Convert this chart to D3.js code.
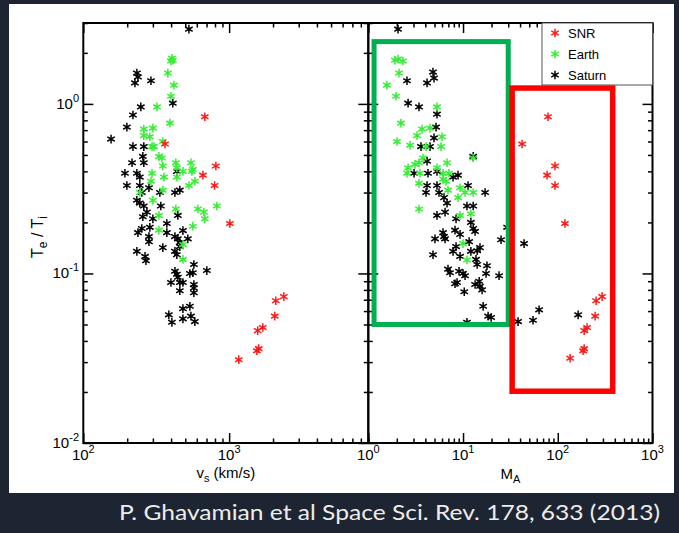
<!DOCTYPE html>
<html><head><meta charset="utf-8">
<script src="https://cdn.jsdelivr.net/npm/d3@7"></script>
<style>html,body{margin:0;padding:0;background:#1e2532;}svg{display:block}</style>
</head><body>
<svg id="c" width="679" height="533"></svg>
<script>
// ---------- data ----------
const seriesNames = ["SNR", "Earth", "Saturn"];
const yMajorTicks = [0.01, 0.1, 1];
const vsMajorTicks = [100, 1000];
const maMajorTicks = [1, 10, 100, 1000];

// [v_s (km/s), Te/Ti]
const snrVs = [[681,0.84],[363,0.58],[811,0.43],[661,0.38],[795,0.33],[1011,0.197],[2371,0.073],[2089,0.069],[2056,0.056],[1701,0.048],[1570,0.046],[1596,0.036],[1549,0.035],[1164,0.031]];
const earthVs = [[405,1.86],[399,1.79],[411,1.81],[380,1.52],[418,1.29],[399,1.11],[320,0.96],[393,0.77],[260,0.71],[300,0.72],[260,0.65],[286,0.64],[351,0.60],[296,0.56],[305,0.56],[330,0.49],[346,0.48],[351,0.43],[431,0.45],[438,0.42],[547,0.45],[555,0.40],[564,0.41],[482,0.40],[296,0.39],[357,0.37],[438,0.37],[291,0.35],[530,0.33],[582,0.35],[351,0.31],[244,0.30],[300,0.27],[431,0.24],[611,0.24],[671,0.23],[681,0.21],[824,0.25],[564,0.19],[330,0.18],[482,0.148],[330,0.22],[482,0.121]];
const saturnVs = [[530,2.76],[233,1.52],[237,1.44],[226,1.33],[291,1.37],[411,1.01],[248,0.96],[219,0.86],[199,0.73],[155,0.62],[219,0.56],[260,0.56],[256,0.49],[260,0.45],[216,0.45],[193,0.39],[233,0.39],[244,0.37],[438,0.40],[199,0.33],[244,0.33],[282,0.32],[252,0.30],[335,0.30],[459,0.31],[425,0.30],[233,0.27],[244,0.26],[260,0.25],[273,0.23],[256,0.216],[300,0.21],[340,0.25],[445,0.22],[374,0.197],[252,0.184],[237,0.174],[286,0.187],[282,0.165],[282,0.154],[374,0.174],[482,0.179],[425,0.165],[445,0.16],[459,0.152],[521,0.16],[351,0.142],[233,0.135],[265,0.126],[459,0.144],[425,0.135],[269,0.119],[438,0.129],[425,0.103],[438,0.099],[445,0.095],[459,0.0885],[399,0.0885],[482,0.0885],[459,0.079],[538,0.100],[573,0.113],[564,0.101],[573,0.086],[573,0.082],[573,0.077],[703,0.104],[386,0.057],[405,0.0515],[482,0.062],[538,0.064],[482,0.054],[547,0.056],[582,0.052]];

// [M_A, Te/Ti]
const snrMA = [[78.9,0.84],[42.0,0.58],[93.5,0.43],[77.1,0.38],[93.5,0.33],[119,0.197],[294,0.073],[254,0.069],[248,0.056],[204,0.048],[190,0.046],[190,0.036],[185,0.035],[135,0.0316]];
const earthMA = [[1.91,1.81],[2.06,1.84],[2.32,1.79],[2.11,1.52],[1.57,1.29],[1.96,1.11],[5.31,0.96],[2.21,0.77],[3.69,0.71],[4.48,0.72],[3.27,0.65],[6.00,0.64],[2.01,0.60],[2.76,0.57],[4.07,0.56],[5.86,0.56],[3.78,0.48],[3.43,0.45],[3.11,0.44],[2.63,0.42],[2.56,0.39],[3.51,0.39],[5.31,0.42],[6.78,0.45],[12.8,0.48],[6.15,0.39],[7.11,0.39],[3.43,0.34],[6.15,0.36],[6.61,0.35],[6.94,0.31],[9.30,0.32],[10.5,0.30],[12.8,0.30],[8.86,0.28],[3.43,0.24],[12.1,0.225],[9.30,0.22],[10.0,0.15],[11.0,0.12]];
const saturnMA = [[2.06,2.76],[4.82,1.54],[4.94,1.42],[4.17,1.33],[2.56,1.37],[2.63,1.01],[3.43,0.96],[5.31,0.87],[5.19,0.73],[4.94,0.63],[3.60,0.56],[4.48,0.56],[12.8,0.49],[4.17,0.46],[3.04,0.39],[4.27,0.39],[5.31,0.40],[7.84,0.37],[8.86,0.38],[4.17,0.33],[5.31,0.33],[4.07,0.30],[5.58,0.30],[11.3,0.33],[17.1,0.30],[6.30,0.28],[6.78,0.26],[11.0,0.25],[12.8,0.25],[6.46,0.23],[5.31,0.22],[8.44,0.21],[12.1,0.20],[12.8,0.184],[13.4,0.177],[8.23,0.18],[6.15,0.174],[6.30,0.165],[5.06,0.16],[6.46,0.16],[9.30,0.17],[11.6,0.154],[8.44,0.144],[15.1,0.142],[14.1,0.136],[12.1,0.135],[25.2,0.158],[29.2,0.187],[44.1,0.15],[4.82,0.129],[9.30,0.126],[7.84,0.135],[13.7,0.121],[14.1,0.113],[17.9,0.111],[6.94,0.106],[7.29,0.101],[9.07,0.103],[10.0,0.100],[10.5,0.097],[17.5,0.100],[24.0,0.097],[8.65,0.0885],[8.23,0.087],[13.4,0.086],[14.8,0.090],[15.1,0.084],[15.9,0.080],[10.3,0.078],[16.3,0.064],[18.4,0.056],[19.8,0.055],[11.0,0.0515],[38.1,0.052],[54.8,0.053],[63.5,0.061],[164,0.057]];

// annotation boxes in data units: [M_A min, M_A max], [Te/Ti min, Te/Ti max]
const greenBoxMA = [1.15, 30], greenBoxT = [0.05, 2.33];
const redBoxMA = [33, 380], redBoxT = [0.0202, 1.24];

const caption = "P. Ghavamian et al Space Sci. Rev. 178, 633 (2013)";

// ---------- styles / layout ----------
const colors = {SNR: "#ff1a1a", Earth: "#33ee33", Saturn: "#000000"};
const font = "'Liberation Sans', Arial, sans-serif";
const T = 23, B = 443;
const starSize = 52, starStroke = 1.5;

const svg = d3.select("#c");
svg.append("rect").attr("width", 679).attr("height", 533).attr("fill", "#1e2532");
svg.append("rect").attr("x", 9).attr("y", 4).attr("width", 665).attr("height", 489).attr("fill", "#fff");

const y = d3.scaleLog().domain([0.01, 3]).range([B, T]);
const xV = d3.scaleLog().domain([100, 9000]).range([83.3, 368.3]);
const xM = d3.scaleLog().domain([1, 1000]).range([368.3, 652.5]);

const isMajor = v => Math.abs(Math.log10(v) - Math.round(Math.log10(v))) < 1e-9;

function drawTicks(x) {
  const [L, R] = x.range();
  const xt = x.ticks(), yt = y.ticks();
  const g = svg.append("g");
  const specs = [
    [d3.axisBottom(x), `translate(0,${B})`, xt],
    [d3.axisTop(x), `translate(0,${T})`, xt],
    [d3.axisLeft(y), `translate(${L},0)`, yt],
    [d3.axisRight(y), `translate(${R},0)`, yt]
  ];
  specs.forEach(([ax, tr, ticks]) => {
    const maj = ticks.filter(isMajor), min = ticks.filter(v => !isMajor(v));
    [[maj, 10], [min, 4.5]].forEach(([vals, len]) => {
      const a = g.append("g").attr("transform", tr)
        .call(ax.tickValues(vals).tickSize(-len).tickSizeOuter(0).tickFormat(""));
      a.select(".domain").remove();
      a.selectAll("line").attr("stroke", "#000").attr("stroke-width", 1.5);
    });
  });
  g.append("rect").attr("x", L).attr("y", T).attr("width", R - L).attr("height", B - T)
    .attr("fill", "none").attr("stroke", "#000").attr("stroke-width", 2);
}

function powLabel(g, px, py, exp, anchor) {
  const t = g.append("text").attr("x", px).attr("y", py).attr("text-anchor", anchor)
    .attr("font-family", font).attr("font-size", 15).attr("fill", "#000");
  t.append("tspan").text("10");
  t.append("tspan").attr("dy", -7).attr("font-size", 11).text(exp);
}

function drawStars(x, data, name) {
  const sym = d3.symbol().type(d3.symbolAsterisk).size(starSize);
  svg.append("g").selectAll("path").data(data).join("path")
    .attr("transform", d => `translate(${x(d[0])},${y(d[1])})`)
    .attr("d", sym).attr("fill", "none")
    .attr("stroke", colors[name]).attr("stroke-width", starStroke);
}

// points
drawStars(xV, saturnVs, "Saturn");
drawStars(xV, earthVs, "Earth");
drawStars(xV, snrVs, "SNR");
drawStars(xM, saturnMA, "Saturn");
drawStars(xM, earthMA, "Earth");
drawStars(xM, snrMA, "SNR");

drawTicks(xV);
drawTicks(xM);

// tick labels
const lab = svg.append("g");
yMajorTicks.forEach(v => powLabel(lab, 79, y(v) + 5, String(Math.round(Math.log10(v))), "end"));
vsMajorTicks.forEach(v => powLabel(lab, xV(v), 460, String(Math.round(Math.log10(v))), "middle"));
maMajorTicks.forEach(v => powLabel(lab, xM(v), 460, String(Math.round(Math.log10(v))), "middle"));

// axis titles
const t1 = svg.append("text").attr("x", d3.mean(xV.range())).attr("y", 478).attr("text-anchor", "middle")
  .attr("font-family", font).attr("font-size", 15);
t1.append("tspan").text("v");
t1.append("tspan").attr("dy", 4).attr("font-size", 11).text("s");
t1.append("tspan").attr("dy", -4).text(" (km/s)");

const t2 = svg.append("text").attr("x", d3.mean(xM.range())).attr("y", 479).attr("text-anchor", "middle")
  .attr("font-family", font).attr("font-size", 15);
t2.append("tspan").text("M");
t2.append("tspan").attr("dy", 4).attr("font-size", 11).text("A");

const t3 = svg.append("text").attr("transform", "translate(43,237) rotate(-90)").attr("text-anchor", "middle")
  .attr("font-family", font).attr("font-size", 16);
t3.append("tspan").text("T");
t3.append("tspan").attr("dy", 4).attr("font-size", 12).text("e");
t3.append("tspan").attr("dy", -4).text(" / T");
t3.append("tspan").attr("dy", 4).attr("font-size", 12).text("i");

// annotation boxes
svg.append("rect")
  .attr("x", xM(greenBoxMA[0])).attr("y", y(greenBoxT[1]))
  .attr("width", xM(greenBoxMA[1]) - xM(greenBoxMA[0])).attr("height", y(greenBoxT[0]) - y(greenBoxT[1]))
  .attr("fill", "none").attr("stroke", "#00b050").attr("stroke-width", 5);
svg.append("rect")
  .attr("x", xM(redBoxMA[0])).attr("y", y(redBoxT[1]))
  .attr("width", xM(redBoxMA[1]) - xM(redBoxMA[0])).attr("height", y(redBoxT[0]) - y(redBoxT[1]))
  .attr("fill", "none").attr("stroke", "#ff0000").attr("stroke-width", 5.5);

// legend
const lg = svg.append("g");
lg.append("rect").attr("x", 542).attr("y", T).attr("width", 652.5 - 542).attr("height", 62)
  .attr("fill", "#fff").attr("stroke", "#555").attr("stroke-width", 1);
seriesNames.forEach((n, i) => {
  const cy = 33 + i * 21;
  lg.append("path").attr("transform", `translate(555,${cy})`)
    .attr("d", d3.symbol().type(d3.symbolAsterisk).size(starSize)).attr("fill", "none")
    .attr("stroke", colors[n]).attr("stroke-width", starStroke);
  lg.append("text").attr("x", 568).attr("y", cy + 5).attr("font-family", font).attr("font-size", 13).text(n);
});

// caption
svg.append("text").attr("x", 119).attr("y", 520).attr("font-family", "Lato, 'Open Sans', sans-serif")
  .attr("font-size", 21).attr("fill", "#ececec")
  .attr("textLength", 541).attr("lengthAdjust", "spacingAndGlyphs").text(caption);
</script>
</body></html>
